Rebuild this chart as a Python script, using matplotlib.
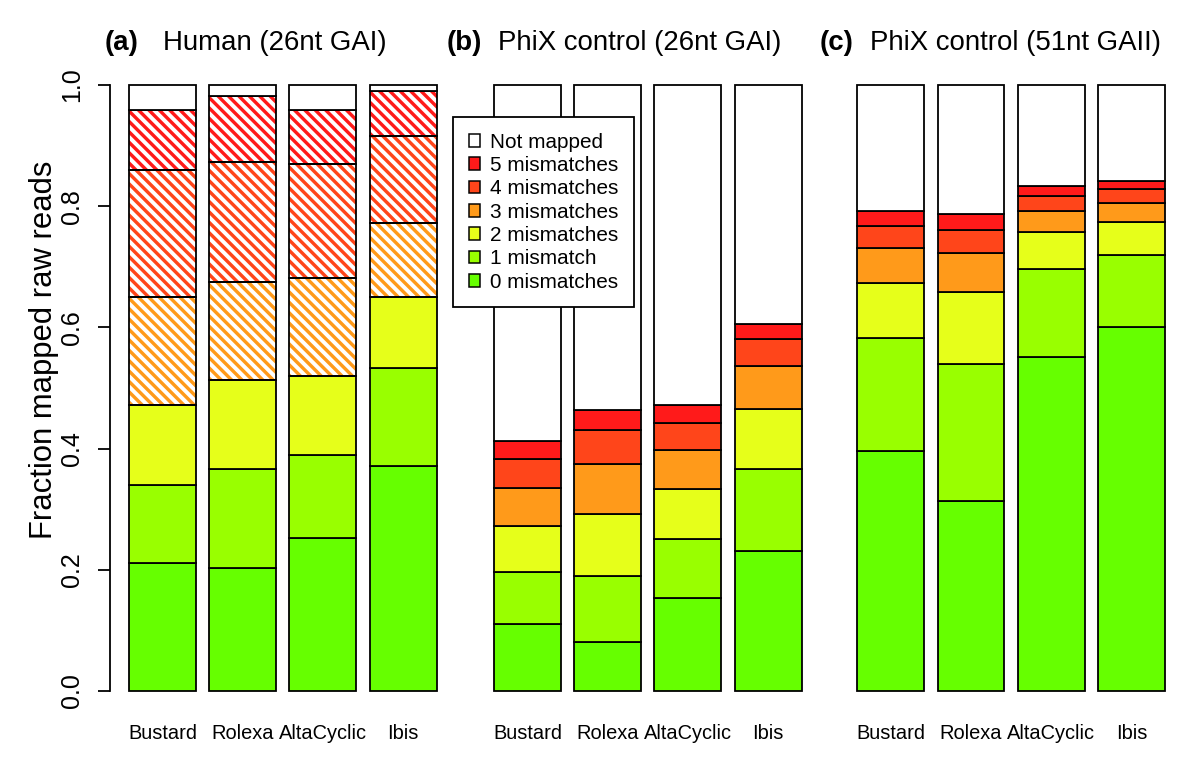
import numpy as np
import matplotlib
matplotlib.use("Agg")
import matplotlib.pyplot as plt
from matplotlib.patches import Patch
from matplotlib.collections import LineCollection

W, H, DPI = 1200, 762, 125
plt.rcParams["font.family"] = ["Liberation Sans", "DejaVu Sans"]


def pt(p):
    # pixels -> points at the chosen dpi
    return p * 72 / DPI


programs = ["Bustard", "Rolexa", "AltaCyclic", "Ibis"]
mismatch_labels = ["0 mismatches", "1 mismatch", "2 mismatches",
                   "3 mismatches", "4 mismatches", "5 mismatches"]
colors = ["#66FF00", "#99FF00", "#E6FF1A", "#FF9A1A", "#FF451A", "#FF1A1A"]

# cumulative fraction of raw reads mapped with <= k mismatches, k = 0..5
human_26nt = [
    [0.211, 0.340, 0.472, 0.650, 0.860, 0.958],   # Bustard
    [0.203, 0.366, 0.513, 0.675, 0.873, 0.982],   # Rolexa
    [0.252, 0.390, 0.519, 0.681, 0.870, 0.959],   # AltaCyclic
    [0.371, 0.533, 0.650, 0.773, 0.916, 0.990],   # Ibis
]
phix_26nt = [
    [0.111, 0.196, 0.272, 0.335, 0.383, 0.413],
    [0.081, 0.190, 0.292, 0.375, 0.431, 0.464],
    [0.154, 0.251, 0.333, 0.397, 0.443, 0.472],
    [0.231, 0.366, 0.465, 0.536, 0.581, 0.606],
]
phix_51nt = [
    [0.396, 0.582, 0.673, 0.731, 0.767, 0.792],
    [0.314, 0.540, 0.659, 0.723, 0.761, 0.787],
    [0.551, 0.696, 0.757, 0.792, 0.817, 0.833],
    [0.601, 0.720, 0.774, 0.806, 0.828, 0.842],
]
# first mismatch class drawn hatched in panel (a) for each program
human_hatch_from = [3, 3, 3, 3]

panels = [
    ("(a)", "Human (26nt GAI)", human_26nt, human_hatch_from),
    ("(b)", "PhiX control (26nt GAI)", phix_26nt, None),
    ("(c)", "PhiX control (51nt GAII)", phix_51nt, None),
]

fig = plt.figure(figsize=(W / DPI, H / DPI), dpi=DPI)

# layout in pixels (left edge of each plot region, title positions)
ax_left = [115.6, 480.6, 843.9]
ax_w, ax_top, ax_bot = 321, 85, 691
tag_x = [105, 447, 820]
title_x = [163, 498, 870]

x = 0.7 + 1.2 * np.arange(len(programs))
lw = pt(1.8)
HATCH_STEP = 10.4    # px between stripes, measured along x
HATCH_LW = pt(3.4)


def hatch_bar(ax, rect, color):
    """Diagonal (\\) stripes in `color`, clipped to the bar rectangle."""
    to_px = ax.transData
    (x0, y0), (x1, y1) = to_px.transform([(rect.get_x(), rect.get_y()),
                                          (rect.get_x() + rect.get_width(),
                                           rect.get_y() + rect.get_height())])
    # lines x + y = c in pixel space
    cs = np.arange(np.floor((x0 + y0) / HATCH_STEP) - 1,
                   np.ceil((x1 + y1) / HATCH_STEP) + 2) * HATCH_STEP
    segs = []
    for c in cs:
        p = to_px.inverted().transform([(x0 - 20, c - x0 + 20), (x1 + 20, c - x1 - 20)])
        segs.append(p)
    lc = LineCollection(segs, colors=color, linewidths=HATCH_LW, capstyle="butt")
    ax.add_collection(lc)
    lc.set_clip_path(rect)


for i, (tag, title, data, hatch_from) in enumerate(panels):
    ax = fig.add_axes([ax_left[i] / W, (H - ax_bot) / H, ax_w / W, (ax_bot - ax_top) / H])
    ax.set_xlim(0, 4.8)
    ax.set_ylim(0, 1)
    cum = np.array(data)
    bottoms = np.hstack([np.zeros((len(programs), 1)), cum[:, :-1]])
    heights = np.diff(np.hstack([np.zeros((len(programs), 1)), cum]), axis=1)
    for k in range(len(mismatch_labels)):
        if hatch_from is None:
            ax.bar(x, heights[:, k], 1.0, bottom=bottoms[:, k], color=colors[k],
                   edgecolor="black", linewidth=lw, clip_on=False)
        else:
            for j in range(len(programs)):
                if k >= hatch_from[j]:
                    r = ax.bar(x[j], heights[j, k], 1.0, bottom=bottoms[j, k], facecolor="white",
                               linewidth=0, clip_on=False)[0]
                    hatch_bar(ax, r, colors[k])
                    ax.bar(x[j], heights[j, k], 1.0, bottom=bottoms[j, k], fill=False,
                           edgecolor="black", linewidth=lw, clip_on=False, zorder=3)
                else:
                    ax.bar(x[j], heights[j, k], 1.0, bottom=bottoms[j, k], color=colors[k],
                           edgecolor="black", linewidth=lw, clip_on=False, zorder=3)
    # not mapped
    ax.bar(x, 1 - cum[:, -1], 1.0, bottom=cum[:, -1], color="white",
           edgecolor="black", linewidth=lw, clip_on=False, zorder=3)

    for s in ["top", "right", "bottom"]:
        ax.spines[s].set_visible(False)
    ax.set_xticks(x)
    ax.set_xticklabels(programs, fontsize=pt(20))
    ax.tick_params(axis="x", length=0, pad=pt(33))
    if i == 0:
        ax.spines["left"].set_position(("outward", pt(5.6)))
        ax.spines["left"].set_linewidth(pt(1.8))
        ax.set_yticks(np.arange(0, 1.01, 0.2))
        ax.set_yticklabels([f"{v:.1f}" for v in np.arange(0, 1.01, 0.2)], fontsize=pt(25))
        ax.tick_params(axis="y", length=pt(12), width=pt(1.8), pad=pt(14))
        plt.setp(ax.get_yticklabels(), rotation=90, va="center", ha="right")
    else:
        ax.spines["left"].set_visible(False)
        ax.set_yticks([])

    fig.text(tag_x[i] / W, 1 - 43 / H, tag, fontsize=pt(27.6), fontweight="bold",
             ha="left", va="center")
    fig.text(title_x[i] / W, 1 - 43 / H, title, fontsize=pt(27.6), ha="left", va="center")

fig.text(44 / W, 1 - 350 / H, "Fraction mapped raw reads", fontsize=pt(31),
         rotation=90, ha="center", va="center")

handles = [Patch(facecolor="white", edgecolor="black", linewidth=pt(1.5), label="Not mapped")]
for k in range(len(mismatch_labels) - 1, -1, -1):
    handles.append(Patch(facecolor=colors[k], edgecolor="black", linewidth=pt(1.5),
                         label=mismatch_labels[k]))
leg = fig.legend(handles=handles, loc="upper left", bbox_to_anchor=(453 / W, 1 - 117 / H),
                 borderaxespad=0, fontsize=pt(20.8), handlelength=0.55, handleheight=0.55,
                 handletextpad=0.5, labelspacing=0.21, borderpad=0.75, fancybox=False,
                 framealpha=1, edgecolor="black")
leg.get_frame().set_linewidth(pt(1.8))

fig.savefig("out.png", dpi=DPI)
